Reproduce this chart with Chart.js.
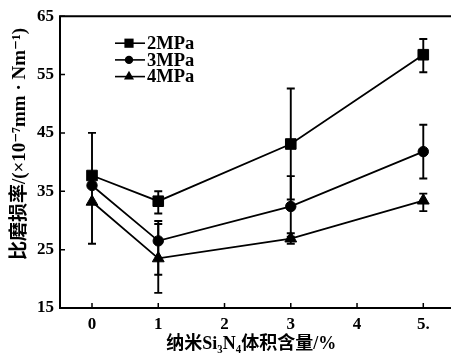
<!DOCTYPE html>
<html><head><meta charset="utf-8">
<script src="https://cdn.jsdelivr.net/npm/chart.js@4/dist/chart.umd.min.js"></script>
<style>html,body{margin:0;padding:0;background:#fff;overflow:hidden}#wrap{width:451px;height:355px;position:relative}</style>
</head><body><div id="wrap"><canvas id="c"></canvas></div>
<script>
// ---- data ----
const xValues = [0, 1, 3, 5];
const seriesNames = ['2MPa', '3MPa', '4MPa'];
const s2MPa = [37.7, 33.3, 43.1, 58.4];
const s3MPa = [36.0, 26.5, 32.4, 41.8];
const s4MPa = [33.2, 23.5, 26.9, 33.4];
const s2MPaLow  = [null, 31.2, 33.6, 55.4];
const s2MPaHigh = [null, 35.0, 52.6, 61.1];
const s3MPaLow  = [26.0, 20.7, 27.2, 37.2];
const s3MPaHigh = [45.0, 29.9, 37.6, 46.4];
const s4MPaLow  = [null, 17.6, 26.0, 31.6];
const s4MPaHigh = [null, 29.4, 27.8, 34.6];
const xTicks = [0, 1, 2, 3, 4, 5];
const xTickLabels = ['0', '1', '2', '3', '4', '5.'];
const yTicks = [15, 25, 35, 45, 55, 65];
const xTitle = '纳米Si₃N₄体积含量/%';
const yTitle = '比磨损率/(×10⁻⁷mm · Nm⁻¹)';

const FAM = "'Liberation Serif','DejaVu Serif','Noto Sans CJK SC',serif";
const markerStyles = ['rect', 'circle', 'triangle'];
const markerRadius = [7.5, 5.2, 6.8];

function mk(name, vals, lo, hi, i) {
  return {
    label: name,
    data: xValues.map((x, k) => ({x: x, y: vals[k]})),
    errLow: lo, errHigh: hi,
    borderColor: '#000', backgroundColor: '#000', borderWidth: 1.8,
    pointStyle: markerStyles[i], pointRadius: markerRadius[i], pointHoverRadius: markerRadius[i],
    pointBorderWidth: 1, tension: 0, fill: false
  };
}

function drawMarker(ctx, style, r, x, y) {
  ctx.beginPath();
  if (style === 'rect') {
    const s = Math.SQRT1_2 * r;
    ctx.rect(x - s, y - s, 2 * s, 2 * s);
  } else if (style === 'circle') {
    ctx.arc(x, y, r, 0, Math.PI * 2);
  } else {
    ctx.moveTo(x, y - r);
    ctx.lineTo(x + r * Math.sin(Math.PI * 2 / 3), y - r * Math.cos(Math.PI * 2 / 3));
    ctx.lineTo(x + r * Math.sin(Math.PI * 4 / 3), y - r * Math.cos(Math.PI * 4 / 3));
    ctx.closePath();
  }
  ctx.fill();
}

const decor = {
  id: 'decor',
  beforeDatasetsDraw(chart) {
    const {ctx, scales: {x, y}} = chart;
    ctx.save();
    ctx.strokeStyle = '#000';
    ctx.lineWidth = 1.9;
    chart.data.datasets.forEach(ds => {
      ds.data.forEach((p, i) => {
        const lo = ds.errLow[i], hi = ds.errHigh[i];
        if (lo == null || hi == null) return;
        const px = x.getPixelForValue(p.x);
        const pl = y.getPixelForValue(lo), ph = y.getPixelForValue(hi);
        ctx.beginPath();
        ctx.moveTo(px, pl); ctx.lineTo(px, ph);
        ctx.moveTo(px - 4, pl); ctx.lineTo(px + 4, pl);
        ctx.moveTo(px - 4, ph); ctx.lineTo(px + 4, ph);
        ctx.stroke();
      });
    });
    ctx.restore();
  },
  afterDraw(chart) {
    const {ctx, chartArea: a, scales: {x, y}} = chart;
    ctx.save();
    ctx.strokeStyle = '#000';
    ctx.lineWidth = 2;
    ctx.beginPath();
    ctx.moveTo(chart.width, a.top); ctx.lineTo(a.left, a.top);
    ctx.lineTo(a.left, a.bottom); ctx.lineTo(chart.width, a.bottom);
    ctx.stroke();
    ctx.lineWidth = 1.5;
    ctx.beginPath();
    yTicks.forEach(v => { const py = y.getPixelForValue(v); ctx.moveTo(a.left, py); ctx.lineTo(a.left + 5, py); });
    xTicks.forEach(v => { const px = x.getPixelForValue(v); ctx.moveTo(px, a.bottom); ctx.lineTo(px, a.bottom - 5); });
    ctx.stroke();
    // y axis title
    ctx.fillStyle = '#000';
    ctx.save();
    ctx.translate(20, 144);
    ctx.rotate(-Math.PI / 2);
    ctx.font = "bold 19px " + FAM;
    ctx.textAlign = 'center';
    ctx.textBaseline = 'middle';
    ctx.fillText(yTitle, 0, 0);
    ctx.restore();
    // legend
    ctx.font = "bold 18.5px " + FAM;
    ctx.textBaseline = 'middle';
    ctx.textAlign = 'left';
    chart.data.datasets.forEach((ds, i) => {
      const ly = a.top + 27 + i * 16.7;
      const lx = a.left + 55;
      ctx.lineWidth = 1.6;
      ctx.beginPath(); ctx.moveTo(lx, ly); ctx.lineTo(lx + 30, ly); ctx.stroke();
      drawMarker(ctx, ds.pointStyle, ds.pointRadius - 1, lx + 14, ly);
      ctx.fillText(ds.label, lx + 32, ly + 1);
    });
    ctx.restore();
  }
};

new Chart(document.getElementById('c'), {
  type: 'line',
  data: {
    datasets: [
      mk(seriesNames[0], s2MPa, s2MPaLow, s2MPaHigh, 0),
      mk(seriesNames[1], s3MPa, s3MPaLow, s3MPaHigh, 1),
      mk(seriesNames[2], s4MPa, s4MPaLow, s4MPaHigh, 2)
    ]
  },
  options: {
    responsive: true, maintainAspectRatio: false, animation: false,
    layout: {padding: {left: 0, top: 15, right: 0, bottom: 0}},
    plugins: {legend: {display: false}, tooltip: {enabled: false}},
    scales: {
      x: {
        type: 'linear', min: -0.483, max: 5.29,
        afterBuildTicks: s => { s.ticks = xTicks.map(v => ({value: v})); },
        afterFit: s => { s.height = 47; },
        grid: {display: false, drawTicks: false},
        border: {display: false},
        ticks: {
          callback: v => xTickLabels[xTicks.indexOf(v)],
          padding: 6, maxRotation: 0, autoSkip: false, color: '#000',
          font: {family: FAM, size: 17, weight: 'bold'}
        },
        title: {display: true, text: xTitle, color: '#000', padding: {top: 0, bottom: 0},
          font: {family: FAM, size: 18, weight: 'bold'}}
      },
      y: {
        type: 'linear', min: 15, max: 65,
        afterBuildTicks: s => { s.ticks = yTicks.map(v => ({value: v})); },
        afterFit: s => { s.width = 60; },
        grid: {display: false, drawTicks: false},
        border: {display: false},
        ticks: {padding: 6, color: '#000', font: {family: FAM, size: 17, weight: 'bold'}},
        title: {display: false}
      }
    }
  },
  plugins: [decor]
});
</script>
</body></html>
